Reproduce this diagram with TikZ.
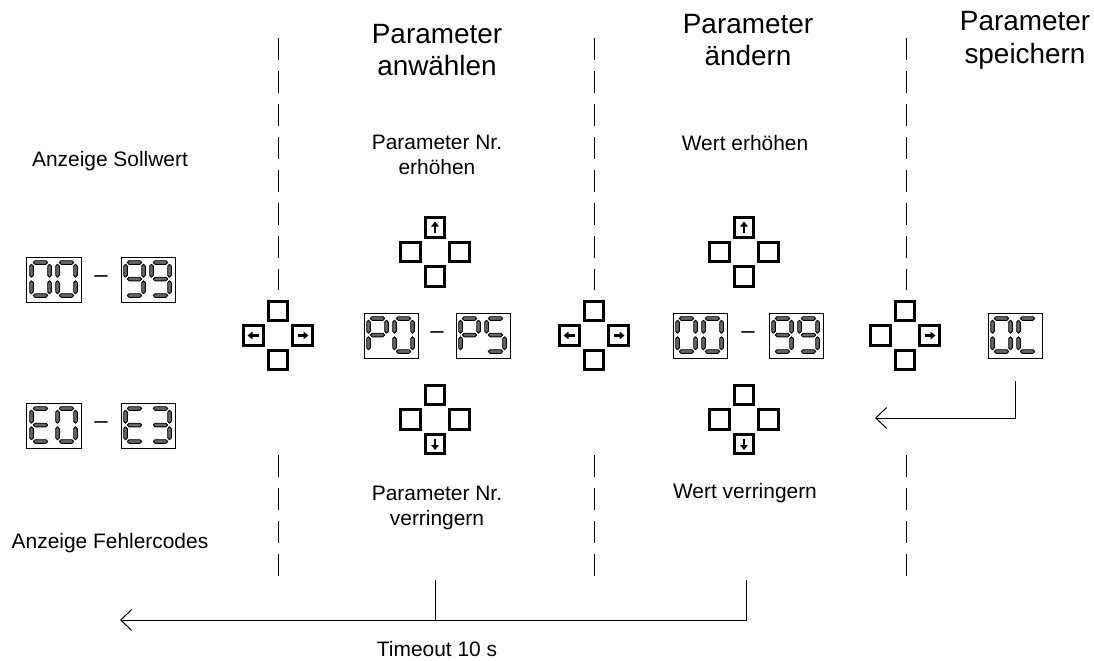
\documentclass[tikz,border=0pt]{standalone}
\usepackage{fontspec}
\setmainfont{Liberation Sans}
\usetikzlibrary{arrows.meta}
\newcommand\HSeg[1]{\filldraw[seg] (1.8,#1)--(3.6,#1-1.8)--(14.4,#1-1.8)--(16.2,#1)--(14.4,#1+1.8)--(3.6,#1+1.8)--cycle;}
\newcommand\VSeg[3]{\filldraw[seg] (#1,#2)--(#1+1.8,#2+1.8)--(#1+1.8,#3-1.8)--(#1,#3)--(#1-1.8,#3-1.8)--(#1-1.8,#2+1.8)--cycle;}
\newcommand\SgA{\HSeg{0}}
\newcommand\SgG{\HSeg{16.5}}
\newcommand\SgD{\HSeg{33}}
\newcommand\SgF{\VSeg{0}{1.8}{14.7}}
\newcommand\SgE{\VSeg{0}{18.3}{31.2}}
\newcommand\SgB{\VSeg{18}{1.8}{14.7}}
\newcommand\SgC{\VSeg{18}{18.3}{31.2}}
\newcommand\DigZ{\SgA\SgB\SgC\SgD\SgE\SgF}
\newcommand\DigN{\SgA\SgB\SgC\SgD\SgF\SgG}
\newcommand\DigE{\SgA\SgD\SgE\SgF\SgG}
\newcommand\DigT{\SgA\SgB\SgC\SgD\SgG}
\newcommand\DigP{\SgA\SgB\SgE\SgF\SgG}
\newcommand\DigS{\SgA\SgC\SgD\SgF\SgG}
\newcommand\DigC{\SgA\SgD\SgE\SgF}
\newcommand\Disp[5]{%
  \node[disp] (#1) at (#2,#3) {};
  \begin{scope}[shift={(#1.north west)}]
    \begin{scope}[shift={(5,6)}] #4 \end{scope}
    \begin{scope}[shift={(31,6)}] #5 \end{scope}
  \end{scope}}
\newcommand\Pad[3]{%
  \node[btn] (#1t) at (#2,#3-24.5) {};
  \node[btn] (#1l) at (#2-24.5,#3) {};
  \node[btn] (#1r) at (#2+24.5,#3) {};
  \node[btn] (#1b) at (#2,#3+24.5) {};}
\begin{document}
\begin{tikzpicture}[x=1bp,y=-1bp,
  disp/.style={draw=black, line width=1bp, minimum width=54bp, minimum height=45bp, inner sep=0pt},
  btn/.style={draw=black, line width=2.6bp, minimum size=19.5bp, inner sep=0pt},
  seg/.style={fill=black!60, draw=black, line width=0.9bp, line join=round},
  dline/.style={line width=1bp, dash pattern=on 22bp off 11bp},
  conn/.style={line width=1bp},
  barb/.style={-{Straight Barb[length=11bp,width=21bp,line width=1bp]}},
  barrow/.style={line width=2.6bp, -{Triangle[length=5bp,width=7.5bp]}},
  lbl/.style={font=\fontsize{21}{24.5}\selectfont, align=center, inner sep=0pt},
  ttl/.style={font=\fontsize{28}{33}\selectfont, align=center, inner sep=0pt},
  dsh/.style={font=\fontsize{24}{24}\selectfont, inner sep=0pt}]
\useasboundingbox (0,0) rectangle (1094,661);
\fill[white] (0,0) rectangle (1094,661);

% separators
\foreach \x in {278,594,906}{
  \draw[dline] (\x,38) -- (\x,290);
  \draw[dline] (\x,455) -- (\x,578);
}

% titles
\node[ttl] (t1) at (437,50) {Parameter\\anwählen};
\node[ttl] (t2) at (748,40) {Parameter\\ändern};
\node[ttl] (t3) at (1025,40) {Parameter\\speichern};

% labels
\node[lbl] (l1) at (110,161) {Anzeige Sollwert};
\node[lbl] (l2) at (437,155) {Parameter Nr.\\erhöhen};
\node[lbl] (l3) at (745,143) {Wert erhöhen};
\node[lbl] (l4) at (110,543) {Anzeige Fehlercodes};
\node[lbl] (l5) at (437,508) {Parameter Nr.\\verringern};
\node[lbl] (l6) at (745,493) {Wert verringern};
\node[lbl] (tout) at (437,649) {Timeout 10 s};

% displays
\Disp{dA}{54}{279.5}{\DigZ}{\DigZ}
\Disp{dB}{148}{279.5}{\DigN}{\DigN}
\node[dsh] (m1) at (101,279.5) {–};
\Disp{dC}{54}{425.5}{\DigE}{\DigZ}
\Disp{dD}{148}{425.5}{\DigE}{\DigT}
\node[dsh] (m2) at (101,425.5) {–};
\Disp{dE}{391}{335.5}{\DigP}{\DigZ}
\Disp{dF}{483}{335.5}{\DigP}{\DigS}
\node[dsh] (m3) at (437,335.5) {–};
\Disp{dG}{700}{335.5}{\DigZ}{\DigZ}
\Disp{dH}{796}{335.5}{\DigN}{\DigN}
\node[dsh] (m4) at (748,335.5) {–};
\Disp{dI}{1015}{335.5}{\DigZ}{\DigC}

% button pads
\Pad{pA}{278}{335.5}
\Pad{pB}{435}{252}
\Pad{pC}{435}{419.5}
\Pad{pD}{594}{335.5}
\Pad{pE}{744}{252}
\Pad{pF}{744}{419.5}
\Pad{pG}{905}{335.5}

\draw[barrow] ([xshift=5bp]pAl.center) -- ([xshift=-6bp]pAl.center);
\draw[barrow] ([xshift=-5bp]pAr.center) -- ([xshift=6bp]pAr.center);
\draw[barrow] ([xshift=5bp]pDl.center) -- ([xshift=-6bp]pDl.center);
\draw[barrow] ([xshift=-5bp]pDr.center) -- ([xshift=6bp]pDr.center);
\draw[barrow] ([xshift=-5bp]pGr.center) -- ([xshift=6bp]pGr.center);
\draw[barrow] ([yshift=-5bp]pBt.center) -- ([yshift=6bp]pBt.center);
\draw[barrow] ([yshift=-5bp]pEt.center) -- ([yshift=6bp]pEt.center);
\draw[barrow] ([yshift=5bp]pCb.center) -- ([yshift=-6bp]pCb.center);
\draw[barrow] ([yshift=5bp]pFb.center) -- ([yshift=-6bp]pFb.center);

% return arrow from 0C
\coordinate (rEnd) at (875,418);
\draw[conn,barb] ([yshift=-22bp]dI.south) |- (rEnd);

% timeout
\coordinate (ta) at (435,580);
\coordinate (tb) at (746,580);
\coordinate (tEnd) at (120,620);
\draw[conn,barb] (tb) |- (tEnd);
\draw[conn] (ta) -- (ta |- tEnd);
\end{tikzpicture}
\end{document}
